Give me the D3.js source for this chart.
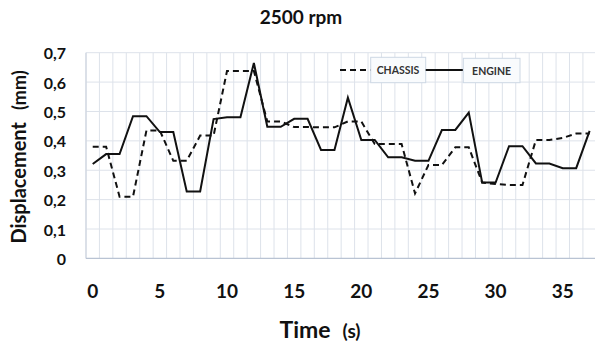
<!DOCTYPE html>
<html>
<head>
<meta charset="utf-8">
<script src="https://cdn.jsdelivr.net/npm/d3@7"></script>
<style>
html,body{margin:0;padding:0;background:#fff;}
svg{display:block;}
text{font-family:Lato,"Open Sans",sans-serif;font-weight:bold;fill:#111;}
</style>
</head>
<body>
<svg id="chart" width="595" height="349"></svg>
<script>
const categories = d3.range(0, 38);
const chassis = [0.38,0.38,0.21,0.21,0.435,0.435,0.332,0.332,0.418,0.418,
  0.638,0.638,0.638,0.466,0.466,0.447,0.447,0.446,0.446,0.466,
  0.466,0.389,0.389,0.389,0.221,0.318,0.318,0.378,0.378,0.258,
  0.253,0.25,0.25,0.403,0.403,0.41,0.425,0.425];
const engine = [0.321,0.355,0.355,0.484,0.484,0.43,0.43,0.228,0.228,0.474,
  0.48,0.48,0.665,0.448,0.448,0.475,0.475,0.369,0.369,0.547,
  0.403,0.403,0.344,0.344,0.332,0.332,0.437,0.437,0.496,0.258,
  0.258,0.382,0.382,0.323,0.323,0.307,0.307,0.434];
const yTicks = [0,0.1,0.2,0.3,0.4,0.5,0.6,0.7];
const yTickLabels = ["0","0,1","0,2","0,3","0,4","0,5","0,6","0,7"];
const xTickValues = [0,5,10,15,20,25,30,35];
const seriesNames = ["CHASSIS","ENGINE"];

(function(){
const svg = d3.select("#chart");
const pLeft = 86, pTop = 52.7, pBottom = 258.4, step = 13.43;
const pRight = pLeft + step * categories.length;

const x = d3.scaleBand().domain(categories).range([pLeft, pRight]).padding(0);
const cx = c => x(c) + x.bandwidth() / 2;
const y = d3.scaleLinear().domain([0, 0.7]).range([pBottom, pTop]);

// grid
const grid = svg.append("g");
const edges = categories.map(c => x(c)).concat([pRight]);
grid.selectAll("line.v").data(edges).join("line")
  .attr("x1", d => d).attr("x2", d => d)
  .attr("y1", pTop).attr("y2", pBottom)
  .attr("stroke", "#dde2ea").attr("stroke-width", 1);
grid.selectAll("line.h").data(yTicks.slice(1)).join("line")
  .attr("x1", pLeft).attr("x2", pRight)
  .attr("y1", d => y(d)).attr("y2", d => y(d))
  .attr("stroke", "#dde2ea").attr("stroke-width", 1);
// axes lines
svg.append("line").attr("x1", pLeft).attr("x2", pLeft).attr("y1", pTop).attr("y2", pBottom)
  .attr("stroke", "#cfd5e0").attr("stroke-width", 1.2);
svg.append("line").attr("x1", pLeft).attr("x2", pRight).attr("y1", pBottom).attr("y2", pBottom)
  .attr("stroke", "#b9c3d3").attr("stroke-width", 1.2);

// y tick labels
svg.append("g").selectAll("text").data(yTicks).join("text")
  .attr("x", 66).attr("y", d => y(d))
  .attr("text-anchor", "end").attr("dominant-baseline", "central")
  .style("font-size", "16px")
  .text((d, i) => yTickLabels[i]);

// x tick labels
svg.append("g").selectAll("text").data(xTickValues).join("text")
  .attr("x", d => cx(d)).attr("y", 290)
  .attr("text-anchor", "middle").attr("dominant-baseline", "central")
  .style("font-size", "19px")
  .text(d => d);

// lines
const line = d3.line().x((d, i) => cx(categories[i])).y(d => y(d));
svg.append("path").datum(chassis).attr("d", line)
  .attr("fill", "none").attr("stroke", "#111").attr("stroke-width", 2)
  .attr("stroke-dasharray", "6,4");
svg.append("path").datum(engine).attr("d", line)
  .attr("fill", "none").attr("stroke", "#111").attr("stroke-width", 2);

// legend
const lg = svg.append("g");
lg.append("line").attr("x1", 340).attr("x2", 371).attr("y1", 70).attr("y2", 70)
  .attr("stroke", "#111").attr("stroke-width", 2).attr("stroke-dasharray", "6,4");
lg.append("rect").attr("x", 370.7).attr("y", 57.3).attr("width", 55).attr("height", 25.4)
  .attr("fill", "#f9fbfd").attr("stroke", "#cdd8e4");
lg.append("text").attr("x", 398).attr("y", 70).attr("text-anchor", "middle")
  .attr("dominant-baseline", "central").style("font-size", "10.5px").style("fill", "#333")
  .text(seriesNames[0]);
lg.append("line").attr("x1", 425.7).attr("x2", 463).attr("y1", 70).attr("y2", 70)
  .attr("stroke", "#111").attr("stroke-width", 2);
lg.append("rect").attr("x", 463.3).attr("y", 58.3).attr("width", 56.7).attr("height", 24.4)
  .attr("fill", "#f9fbfd").attr("stroke", "#cdd8e4");
lg.append("text").attr("x", 491.6).attr("y", 70.5).attr("text-anchor", "middle")
  .attr("dominant-baseline", "central").style("font-size", "10.5px").style("fill", "#333")
  .text(seriesNames[1]);

// title
svg.append("text").attr("x", 301).attr("y", 24).attr("text-anchor", "middle")
  .style("font-size", "19px").text("2500 rpm");

// x axis title
const xt = svg.append("text").attr("x", 320).attr("y", 338).attr("text-anchor", "middle");
xt.append("tspan").style("font-size", "23px").text("Time");
xt.append("tspan").style("font-size", "19px").attr("dx", "12").text("(s)");

// y axis title
const yt = svg.append("text").attr("transform", "translate(26,157) rotate(-90)")
  .attr("text-anchor", "middle");
yt.append("tspan").style("font-size", "20px").text("Displacement");
yt.append("tspan").style("font-size", "18px").attr("dx", "12").text("(mm)");
})();
</script>
</body>
</html>
